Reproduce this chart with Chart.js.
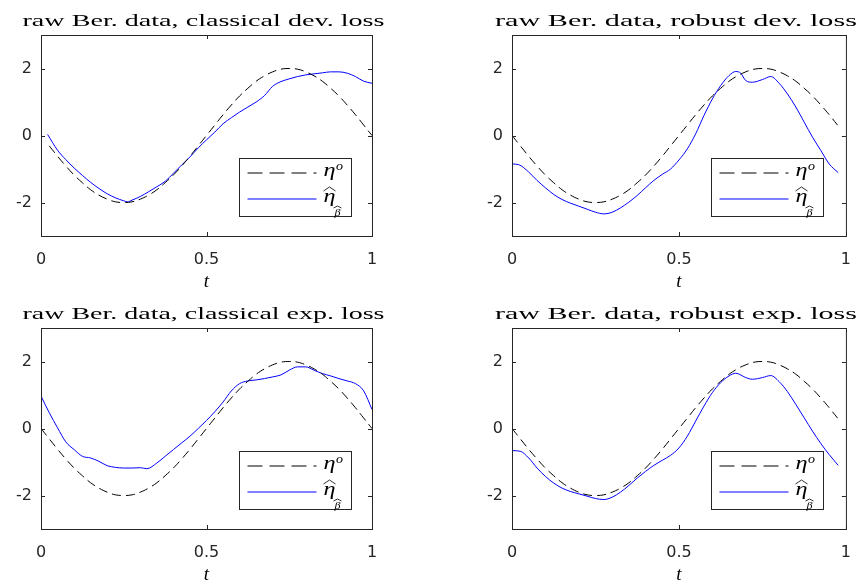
<!DOCTYPE html>
<html>
<head>
<meta charset="utf-8">
<script src="https://cdn.jsdelivr.net/npm/chart.js@4.4.0/dist/chart.umd.min.js"></script>
<style>
  body { margin: 0; background: #fff; }
  #fig { position: relative; width: 865px; height: 585px; }
  .panel { position: absolute; }
</style>
</head>
<body>
<div id="fig">
  <canvas class="panel" id="c0" width="432" height="292" style="left:0;top:0"></canvas>
  <canvas class="panel" id="c1" width="433" height="292" style="left:432px;top:0"></canvas>
  <canvas class="panel" id="c2" width="432" height="293" style="left:0;top:292px"></canvas>
  <canvas class="panel" id="c3" width="433" height="293" style="left:432px;top:292px"></canvas>
</div>
<script>
// panel titles
const titles = [
  'raw Ber. data, classical dev. loss',
  'raw Ber. data, robust dev. loss',
  'raw Ber. data, classical exp. loss',
  'raw Ber. data, robust exp. loss'
];

const xTicks = [0, 0.5, 1];
const yTicks = [-2, 0, 2];

// true curve eta^o, read on a 0.025 grid
const tGrid = [0, 0.025, 0.05, 0.075, 0.1, 0.125, 0.15, 0.175, 0.2, 0.225, 0.25, 0.275, 0.3, 0.325, 0.35,
  0.375, 0.4, 0.425, 0.45, 0.475, 0.5, 0.525, 0.55, 0.575, 0.6, 0.625, 0.65, 0.675, 0.7, 0.725, 0.75,
  0.775, 0.8, 0.825, 0.85, 0.875, 0.9, 0.925, 0.95, 0.975, 1];
const etaTrue = [0, -0.31, -0.62, -0.91, -1.18, -1.41, -1.62, -1.78, -1.90, -1.98, -2.00, -1.98, -1.90,
  -1.78, -1.62, -1.41, -1.18, -0.91, -0.62, -0.31, 0, 0.31, 0.62, 0.91, 1.18, 1.41, 1.62, 1.78, 1.90,
  1.98, 2.00, 1.98, 1.90, 1.78, 1.62, 1.41, 1.18, 0.91, 0.62, 0.31, 0];

// estimates, classical dev. loss
const tDevCl = [0.02, 0.05, 0.075, 0.1, 0.125, 0.15, 0.175, 0.2, 0.225, 0.25, 0.262, 0.275, 0.3, 0.325,
  0.35, 0.375, 0.4, 0.425, 0.45, 0.475, 0.5, 0.525, 0.55, 0.575, 0.6, 0.625, 0.65, 0.675, 0.7, 0.725,
  0.75, 0.775, 0.8, 0.825, 0.85, 0.875, 0.9, 0.925, 0.95, 0.975, 1];
const etaDevCl = [0.03, -0.44, -0.72, -0.97, -1.19, -1.40, -1.58, -1.74, -1.86, -1.95, -1.98, -1.93,
  -1.82, -1.68, -1.53, -1.37, -1.13, -0.88, -0.64, -0.37, -0.13, 0.10, 0.35, 0.53, 0.70, 0.85, 1.00,
  1.19, 1.47, 1.61, 1.69, 1.76, 1.81, 1.84, 1.87, 1.90, 1.90, 1.86, 1.76, 1.62, 1.56];

// robust dev. loss
const tDevRob = [0, 0.02, 0.05, 0.075, 0.1, 0.125, 0.15, 0.175, 0.2, 0.225, 0.25, 0.275, 0.3, 0.325,
  0.35, 0.375, 0.4, 0.425, 0.45, 0.475, 0.5, 0.525, 0.55, 0.575, 0.6, 0.625, 0.65, 0.67, 0.685, 0.7,
  0.72, 0.75, 0.775, 0.8, 0.825, 0.85, 0.875, 0.9, 0.925, 0.95, 0.977];
const etaDevRob = [-0.85, -0.87, -1.09, -1.34, -1.56, -1.76, -1.91, -2.02, -2.11, -2.20, -2.29, -2.34,
  -2.29, -2.16, -1.99, -1.79, -1.56, -1.34, -1.16, -1.00, -0.73, -0.40, 0.05, 0.60, 1.09, 1.49, 1.79,
  1.91, 1.86, 1.64, 1.59, 1.67, 1.76, 1.56, 1.24, 0.85, 0.40, -0.05, -0.45, -0.85, -1.11];

// classical exp. loss
const tExpCl = [0, 0.025, 0.05, 0.075, 0.1, 0.125, 0.15, 0.175, 0.2, 0.225, 0.25, 0.275, 0.3, 0.32,
  0.35, 0.375, 0.4, 0.425, 0.45, 0.475, 0.5, 0.525, 0.55, 0.575, 0.6, 0.625, 0.65, 0.675, 0.7, 0.725,
  0.75, 0.775, 0.8, 0.825, 0.85, 0.875, 0.9, 0.925, 0.95, 0.975, 1];
const etaExpCl = [0.97, 0.47, 0.02, -0.40, -0.63, -0.83, -0.88, -0.98, -1.11, -1.16, -1.18, -1.18,
  -1.17, -1.20, -1.03, -0.83, -0.63, -0.43, -0.23, 0, 0.24, 0.50, 0.79, 1.12, 1.34, 1.42, 1.45, 1.49,
  1.54, 1.60, 1.74, 1.84, 1.84, 1.74, 1.64, 1.57, 1.49, 1.42, 1.34, 1.12, 0.57];

// robust exp. loss
const tExpRob = [0, 0.025, 0.05, 0.075, 0.1, 0.125, 0.15, 0.175, 0.2, 0.225, 0.25, 0.275, 0.3, 0.325,
  0.35, 0.375, 0.4, 0.425, 0.45, 0.475, 0.5, 0.525, 0.55, 0.575, 0.6, 0.625, 0.65, 0.67, 0.7, 0.72,
  0.75, 0.775, 0.8, 0.825, 0.85, 0.875, 0.9, 0.925, 0.95, 0.977];
const etaExpRob = [-0.66, -0.68, -0.88, -1.18, -1.43, -1.63, -1.78, -1.88, -1.95, -2.02, -2.09, -2.12,
  -2.05, -1.90, -1.70, -1.48, -1.28, -1.10, -0.95, -0.80, -0.58, -0.23, 0.22, 0.67, 1.07, 1.37, 1.57,
  1.65, 1.52, 1.47, 1.52, 1.58, 1.40, 1.10, 0.72, 0.32, -0.08, -0.45, -0.78, -1.10];

const axisColor = '#262626';

const panels = [
  { canvas: 'c0', title: titles[0], t: tDevCl, eta: etaDevCl, trueFrom: 1, trueTo: 41 },
  { canvas: 'c1', title: titles[1], t: tDevRob, eta: etaDevRob, trueFrom: 0, trueTo: 40 },
  { canvas: 'c2', title: titles[2], t: tExpCl, eta: etaExpCl, trueFrom: 0, trueTo: 41 },
  { canvas: 'c3', title: titles[3], t: tExpRob, eta: etaExpRob, trueFrom: 0, trueTo: 40 }
];

// plot box placement in each canvas
const layouts = [
  { top: 35, right: 60, yw: 41, xh: 56 },
  { top: 35, right: 12, yw: 80, xh: 56 },
  { top: 36, right: 60, yw: 41, xh: 56 },
  { top: 36, right: 12, yw: 80, xh: 56 }
];

function line(ctx, x1, y1, x2, y2) {
  ctx.beginPath();
  ctx.moveTo(x1, y1);
  ctx.lineTo(x2, y2);
  ctx.stroke();
}

// stretched text, the source figure was widened
function wideText(ctx, text, cx, cy, width) {
  const w0 = ctx.measureText(text).width;
  ctx.save();
  ctx.translate(cx, cy);
  ctx.scale(width / w0, 1);
  ctx.textAlign = 'center';
  ctx.fillText(text, 0, 0);
  ctx.restore();
}

// MATLAB style box, inner ticks, title and legend
const panelDecor = {
  id: 'panelDecor',
  afterDatasetsDraw(chart, args, opts) {
    const { ctx, chartArea: a, scales: { x, y } } = chart;
    ctx.save();
    ctx.strokeStyle = axisColor;
    ctx.lineWidth = 1;
    ctx.strokeRect(a.left + 0.5, a.top + 0.5, a.width, a.height);

    x.ticks.forEach(tk => {
      const px = Math.round(x.getPixelForValue(tk.value)) + 0.5;
      line(ctx, px, a.bottom, px, a.bottom - 4);
      line(ctx, px, a.top, px, a.top + 4);
    });
    y.ticks.forEach(tk => {
      const py = Math.round(y.getPixelForValue(tk.value)) + 0.5;
      line(ctx, a.left, py, a.left + 4, py);
      line(ctx, a.right, py, a.right - 4, py);
    });

    // title
    ctx.fillStyle = '#000';
    ctx.font = '17px "Liberation Serif"';
    ctx.textBaseline = 'alphabetic';
    wideText(ctx, opts.title, (a.left + a.right) / 2 - 3, a.top - 9, 362);

    // legend
    const ds = chart.data.datasets;
    const bx = Math.round(a.left + 0.597 * a.width) + 0.5;
    const by = Math.round(a.top + 123) + 0.5;
    ctx.fillStyle = '#fff';
    ctx.fillRect(bx, by, 112, 58);
    ctx.strokeStyle = axisColor;
    ctx.strokeRect(bx, by, 112, 58);

    const r1 = by + 14.5, r2 = by + 40.5;
    ctx.strokeStyle = ds[0].borderColor;
    ctx.setLineDash([15, 7]);
    line(ctx, bx + 8, r1, bx + 77, r1);
    ctx.setLineDash([]);
    ctx.strokeStyle = ds[1].borderColor;
    line(ctx, bx + 8, r2, bx + 77, r2);

    ctx.fillStyle = '#000';
    const tx = bx + 84;
    ctx.font = 'italic 18px "Liberation Serif"';
    wideText(ctx, '\u03b7', tx + 6, r1 + 3, 12);
    wideText(ctx, '\u03b7', tx + 6, r2 + 3, 12);
    ctx.font = 'italic 12px "Liberation Serif"';
    wideText(ctx, 'o', tx + 16, r1 - 3, 7);
    ctx.font = 'italic 10px "Liberation Serif"';
    wideText(ctx, '\u03b2', tx + 14, r2 + 17, 6);
    // wide hats
    ctx.strokeStyle = '#000';
    ctx.lineWidth = 0.8;
    ctx.beginPath();
    ctx.moveTo(tx, r2 - 8); ctx.lineTo(tx + 6, r2 - 12); ctx.lineTo(tx + 12, r2 - 8);
    ctx.stroke();
    ctx.beginPath();
    ctx.moveTo(tx + 10, r2 + 9); ctx.lineTo(tx + 14, r2 + 7); ctx.lineTo(tx + 18, r2 + 9);
    ctx.stroke();
    ctx.restore();
  }
};

const tickFont = { family: '"DejaVu Sans", sans-serif', size: 16 };

panels.forEach((p, i) => {
  const lay = layouts[i];
  const trueT = tGrid.slice(p.trueFrom, p.trueTo);
  const trueV = etaTrue.slice(p.trueFrom, p.trueTo);
  new Chart(document.getElementById(p.canvas), {
    type: 'line',
    data: {
      datasets: [
        {
          label: 'eta o',
          data: trueT.map((t, k) => ({ x: t, y: trueV[k] })),
          borderColor: '#000000',
          borderWidth: 1,
          borderDash: [9, 5],
          pointRadius: 0,
          tension: 0.4
        },
        {
          label: 'eta hat',
          data: p.t.map((t, k) => ({ x: t, y: p.eta[k] })),
          borderColor: '#0000ff',
          borderWidth: 1,
          pointRadius: 0,
          tension: 0.4,
          cubicInterpolationMode: 'monotone'
        }
      ]
    },
    options: {
      responsive: false,
      animation: false,
      devicePixelRatio: 1,
      layout: { padding: { left: 0, top: lay.top, right: lay.right, bottom: 0 } },
      plugins: {
        legend: { display: false },
        tooltip: { enabled: false },
        panelDecor: { title: p.title }
      },
      scales: {
        x: {
          type: 'linear',
          min: 0,
          max: 1,
          grid: { display: false, drawTicks: false },
          border: { display: false },
          afterBuildTicks: s => { s.ticks = xTicks.map(v => ({ value: v })); },
          afterFit: s => { s.height = lay.xh; },
          ticks: { color: axisColor, font: tickFont, padding: 14, maxRotation: 0, callback: v => String(v) },
          title: {
            display: true,
            text: 't',
            color: '#000',
            font: { family: '"Liberation Serif"', style: 'italic', size: 19 },
            padding: { top: 0, bottom: -1 }
          }
        },
        y: {
          type: 'linear',
          min: -3,
          max: 3,
          grid: { display: false, drawTicks: false },
          border: { display: false },
          afterBuildTicks: s => { s.ticks = yTicks.map(v => ({ value: v })); },
          afterFit: s => { s.width = lay.yw; },
          ticks: { color: axisColor, font: tickFont, padding: 9, callback: v => String(v) }
        }
      }
    },
    plugins: [panelDecor]
  });
});
</script>
</body>
</html>
